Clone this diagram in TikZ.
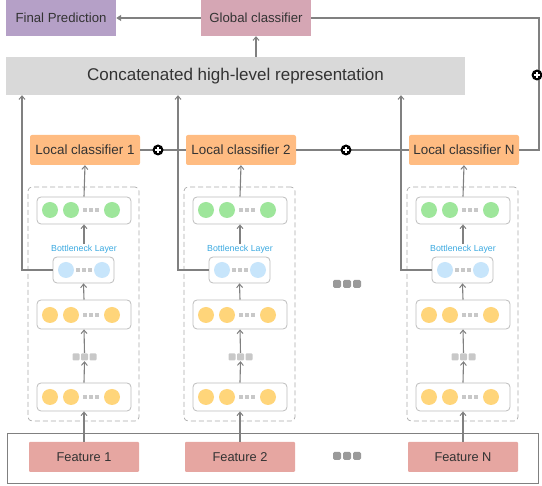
\documentclass[tikz,border=0pt]{standalone}
\usepackage{fontspec}
\setmainfont{Liberation Sans}
\usetikzlibrary{arrows.meta,calc}
\definecolor{txt}{HTML}{333333}
\definecolor{lnc}{HTML}{808080}
\definecolor{finalc}{HTML}{B5A0C7}
\definecolor{globc}{HTML}{D5A6B4}
\definecolor{concc}{HTML}{D9D9D9}
\definecolor{lcc}{HTML}{FFBC82}
\definecolor{featc}{HTML}{E6A6A1}
\definecolor{grc}{HTML}{9EE69B}
\definecolor{yec}{HTML}{FFD57A}
\definecolor{blc}{HTML}{C7E5FB}
\definecolor{sqc}{HTML}{C8C8C8}
\definecolor{bsqc}{HTML}{9A9A9A}
\definecolor{bnt}{HTML}{3BA9E0}
\definecolor{layb}{HTML}{BDBDBD}
\definecolor{dashb}{HTML}{AAAAAA}
\tikzset{
  fillbox/.style={inner sep=0pt, text=txt, font=\fontsize{13.2}{15}\selectfont},
  lcbox/.style={fillbox, fill=lcc, rounded corners=2pt, minimum width=110pt, minimum height=30pt, font=\fontsize{13.4}{15}\selectfont},
  featbox/.style={fillbox, fill=featc, rounded corners=1pt, minimum width=110pt, minimum height=30pt, font=\fontsize{12.8}{15}\selectfont},
  laybox/.style={draw=layb, line width=0.8pt, fill=white, rounded corners=4pt, inner sep=0pt},
  dashbox/.style={draw=dashb, dashed, dash pattern=on 5pt off 3pt, line width=0.7pt, rounded corners=4pt, inner sep=0pt, minimum width=111pt, minimum height=234pt},
  arr/.style={draw=lnc, line width=1.1pt, -{Straight Barb[length=3.5pt,width=6pt,line width=1pt]}},
  tarr/.style={draw=lnc, line width=1.3pt, -{Triangle[length=5pt,width=6pt]}},
  thick line/.style={draw=lnc, line width=2pt},
  dotsnode/.style={inner sep=0pt, minimum width=26pt, minimum height=8pt},
}
\newcommand\plusmark[1]{%
  \fill[black] (#1) circle (5.5pt);
  \draw[white, line width=1.4pt] ($(#1)+(-3,0)$) -- ($(#1)+(3,0)$);
  \draw[white, line width=1.4pt] ($(#1)+(0,-3)$) -- ($(#1)+(0,3)$);
}
\newcommand\threesq[3]{% center x, center y, colour
  \foreach \dx in {-6,0,6} {\fill[#3] ($(#1+\dx-2.3,#2-2.3)$) rectangle ($(#1+\dx+2.3,#2+2.3)$);}
}
\begin{document}
\begin{tikzpicture}[x=1pt,y=-1pt]
\useasboundingbox (0,0) rectangle (542,486);

% top row
\node[fillbox, fill=finalc, minimum width=110pt, minimum height=36pt] (final) at (61,18) {Final Prediction};
\node[fillbox, fill=globc, minimum width=110pt, minimum height=36pt] (glob) at (256,18) {Global classifier};
\node[fillbox, fill=concc, minimum width=459pt, minimum height=38pt, font=\fontsize{17}{20}\selectfont] (conc) at (235.5,76) {Concatenated high-level representation};

% feature frame
\node[draw=lnc, line width=0.9pt, minimum width=531pt, minimum height=50pt, inner sep=0pt] (frame) at (272.5,458) {};

\foreach \l/\o in {1/0, 2/156, N/379} {
  \node[dashbox] (grp\l) at (83.5+\o,304) {};
  \node[lcbox] (lc\l) at (85+\o,150) {Local classifier \l};
  \node[featbox] (feat\l) at (84+\o,457) {Feature \l};
  % green layer
  \node[laybox, minimum width=94pt, minimum height=27pt] (gr\l) at (84+\o,210.5) {};
  \fill[grc] (50+\o,210) circle (8pt);
  \fill[grc] (71+\o,210) circle (8pt);
  \fill[grc] (112+\o,210) circle (8pt);
  \threesq{91+\o}{210}{sqc}
  % bottleneck
  \node[inner sep=0.5pt, text=bnt, font=\fontsize{8.8}{9}\selectfont] (bnl\l) at (84+\o,249) {Bottleneck Layer};
  \node[laybox, minimum width=61pt, minimum height=26pt] (bn\l) at (83.5+\o,270) {};
  \fill[blc] (66+\o,270) circle (8pt);
  \fill[blc] (102+\o,270) circle (8pt);
  \threesq{84+\o}{270}{sqc}
  % upper yellow
  \node[laybox, minimum width=94pt, minimum height=29pt] (yu\l) at (84+\o,314.5) {};
  \fill[yec] (50+\o,315) circle (8pt);
  \fill[yec] (71+\o,315) circle (8pt);
  \fill[yec] (112+\o,315) circle (8pt);
  \threesq{91+\o}{315}{sqc}
  % dots
  \node[dotsnode] (dt\l) at (84.5+\o,357) {};
  \foreach \dx in {-8.5,0,8.5} {\fill[sqc, rounded corners=1pt] ($(84.5+\o+\dx-3.5,357-3.5)$) rectangle ($(84.5+\o+\dx+3.5,357+3.5)$);}
  % lower yellow
  \node[laybox, minimum width=94pt, minimum height=28pt] (yl\l) at (84+\o,397) {};
  \fill[yec] (50+\o,397) circle (8pt);
  \fill[yec] (71+\o,397) circle (8pt);
  \fill[yec] (112+\o,397) circle (8pt);
  \threesq{91+\o}{397}{sqc}
  % arrows
  \draw[arr] (feat\l.north) -- (yl\l.south);
  \draw[arr] (yl\l.north) -- (dt\l.south);
  \draw[arr] (dt\l.north) -- (yu\l.south);
  \draw[arr] (yu\l.north) -- (bn\l.south);
  \draw[arr] (bnl\l.north) -- (gr\l.south);
  \draw[arr] (gr\l.north) -- (lc\l.south);
  \coordinate (cu\l) at (22+\o,100);
  \draw[arr] (bn\l.west) -| (conc.south -| cu\l);
}

% middle dots between columns
\node[dotsnode, minimum width=30pt] (mdA) at (347,284) {};
\node[dotsnode, minimum width=30pt] (mdB) at (347,456) {};
\foreach \yy in {284,456} {
  \foreach \dx in {-10,0,10} {\fill[bsqc, rounded corners=1.5pt] ($(347+\dx-4,\yy-4)$) rectangle ($(347+\dx+4,\yy+4)$);}
}

% top connections
\draw[arr] (conc.north -| glob.south) -- (glob.south);
\draw[tarr] (glob.west) -- (final.east);
\coordinate (rc) at (539,18);
\draw[thick line] (glob.east) -- (rc) |- (lcN.east);
\draw[thick line] (lc1.east) -- (lc2.west);
\draw[thick line] (lc2.east) -- (lcN.west);
\plusmark{158,150}
\plusmark{346,150}
\plusmark{537,75}
\end{tikzpicture}
\end{document}
